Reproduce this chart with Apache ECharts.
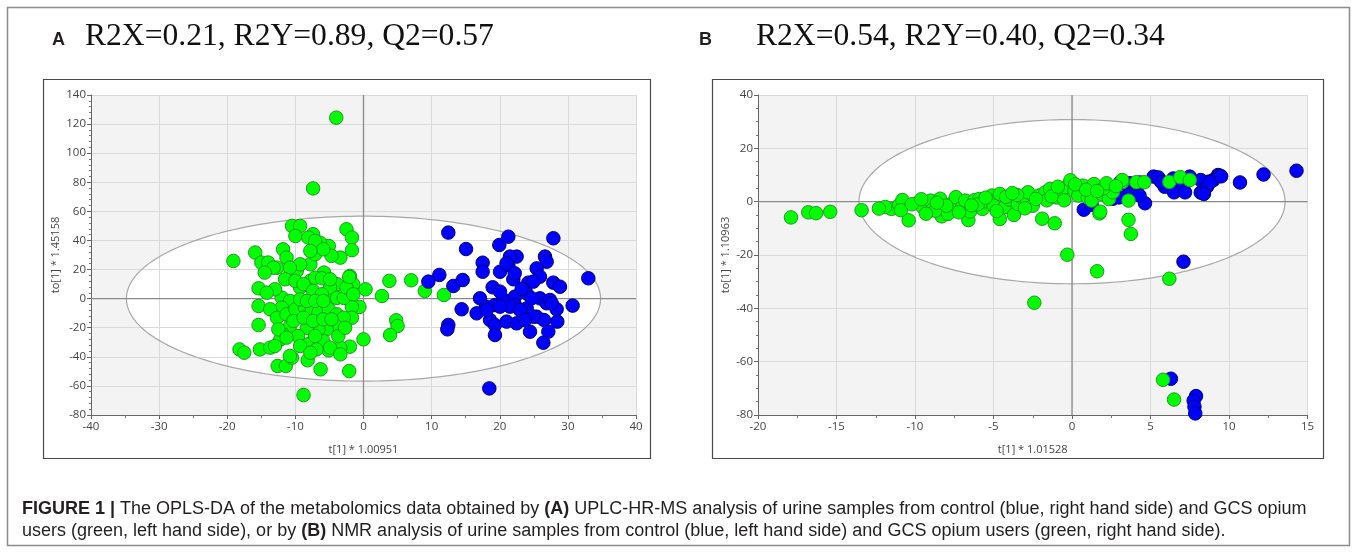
<!DOCTYPE html>
<html><head><meta charset="utf-8">
<script src="https://cdn.jsdelivr.net/npm/echarts@6/dist/echarts.min.js"></script>
<style>html,body{margin:0;padding:0;background:#fff}#c{width:1357px;height:552px}</style>
</head><body><div id="c"></div><script>
// ---------- Panel A data (UPLC-HR-MS) ----------
const greenA = [[-4.0,124.4],[-7.4,75.8],[-8.8,-66.3],[-19.1,25.9],[-15.9,31.7],[-15.0,24.8],[-15.4,7.1],[-15.4,-5.0],[-15.4,-18.1],[-18.2,-34.9],[-17.5,-37.2],[-15.2,-34.9],[-13.7,-33.7],[-12.6,-46.3],[-11.4,-46.3],[-10.5,-40.6],[-8.2,-42.4],[-6.3,-48.6],[-2.1,-49.8],[0,-28],[-2.0,-33],[-3.4,-33.7],[-5.1,-35.6],[-10.5,50],[-9.3,50],[-10.0,43.1],[-7.4,44.3],[-2.5,47.7],[-1.7,42.0],[-1.7,33.3],[-5.1,36.2],[-6.4,38.5],[-3.4,28.2],[-4.7,29.4],[-11.8,33.9],[-12.7,21.3],[-14.0,24.8],[-11.3,28.2],[-9.8,19],[-7.8,23.6],[-7.1,30.5],[-5.8,17.9],[-2.0,15.6],[-1.5,9.9],[0.3,6.4],[-0.6,-5.7],[-1.7,-5.7],[-1.7,-13.1],[-3.9,9.9],[-4.7,0.7],[-12.0,0.7],[-10.8,-1.6],[-9.3,7.6],[-7.8,12.2],[-7.1,14.4],[-6.1,14],[-4.9,7.6],[-3.9,0.5],[-2.9,0.5],[-12.0,-6.2],[-13.7,-7.3],[-12.7,-13.1],[-11.3,-10.8],[-10.0,-7.3],[-8.6,-6.2],[-7.6,-8.5],[-6.6,-9.6],[-5.1,-7.3],[-3.9,-10.8],[-2.9,-13.1],[-4.2,-18.1],[-5.4,-21.1],[-6.6,-21.1],[-8.3,-20],[-10.8,-18.8],[-11.8,-24.5],[-12.2,-28],[-9.6,-25.7],[-8.1,-31.4],[-5.9,-29.1],[-4.9,-33.7],[-9.3,-32.6],[-10.8,-39.4],[-8.1,42],[-7.1,39.7],[-5.9,33.9],[-7.8,32.8],[-9.3,23.6],[-10.8,21.3],[-13.2,21.3],[-14.5,17.9],[-11.5,13.3],[-10.0,12.2],[-8.8,9.9],[-7.4,5.3],[-6.1,3],[-9.3,-0.5],[-8.3,-1.6],[-7.1,-1.6],[-5.9,-1.6],[-13.0,6.4],[-14.2,4.1],[-2.5,7.6],[-1.5,3],[-2.1,14.9],[-4.9,13.3],[-10.3,-15.4],[-8.8,-13.1],[-7.4,-15.4],[-5.9,-14.2],[-4.7,-14.2],[-12.5,-21.1],[-11.3,-26.8],[-7.1,-25.7],[-3.7,-25.7],[-2.7,-20],[-6.9,-34.9],[-3.4,-38.3],[-7.8,-37.2],[-13.0,-32.6],[3.8,12.2],[7.0,12.6],[2.7,1.8],[4.8,-14.9],[5.0,-18.8],[3.9,-25],[9.0,5.3],[11.8,2.5]];
const blueA = [[12.45,45.4],[15.05,34.1],[19.94,36.9],[21.26,42.6],[27.87,41.5],[33.0,14.0],[11.13,16.3],[9.52,11.7],[13.19,8.7],[14.56,12.8],[17.49,24.7],[17.49,18.5],[20.04,18.5],[21.26,23.1],[22.48,28.9],[21.5,28.9],[26.64,28.9],[26.89,25.4],[25.42,20.8],[25.9,15.1],[24.2,11],[27.86,11],[28.84,8.2],[21.99,13.3],[18.96,7.8],[17.1,0.2],[17.98,-5.5],[19.3,-4.4],[20.5,-0.5],[22.24,1.4],[22.24,-4.4],[23.95,-6.7],[23.95,3.6],[25.9,0.2],[26.89,-3.2],[27.38,-0.9],[28.35,-7.3],[30.7,-4.8],[14.41,-7.3],[16.61,-10.1],[18.57,-14.7],[19.3,-18.1],[19.3,-25],[21.01,-15.8],[22.48,-17],[24.44,-22.7],[25.42,-12.4],[26.49,-14.7],[28.45,-15.8],[27.13,-22.7],[26.4,-30.3],[12.45,-18.1],[12.31,-21.1],[18.47,-61.7],[23.22,6.8],[24.93,11.7],[21.5,-5.5],[20.04,-5.5],[18.08,-7.8],[22.97,-7.8],[24.93,-12.4],[23.71,-14.7],[27.62,-3.2],[20.04,4.8],[24.68,0.2],[21.0,24.3],[22.2,17.4]];
const ellipseA = [0, 0, 34.8, 56.7];   // centre x, centre y, semi-axis x, semi-axis y
const xRangeA = [-40, 40, 10];
const yRangeA = [-80, 140, 20];

// ---------- Panel B data (NMR) ----------
const greenB = [[-17.9,-5.9],[-16.8,-4.0],[-16.3,-4.3],[-15.4,-3.8],[-13.4,-3.2],[-11.5,-2.7],[-11.0,-1.2],[-10.8,0.6],[-10.9,-3.2],[-10.4,-7.0],[-9.8,-0.4],[-9.5,-2.1],[-9.0,0.4],[-8.9,-3.1],[-8.4,1.1],[-8.3,-5.5],[-8.7,-3.4],[-7.9,-4.6],[-7.7,-0.9],[-7.4,1.7],[-7.0,-2.1],[-6.8,0.4],[-6.6,-6.9],[-6.5,-3.7],[-6.2,0.6],[-5.9,1.0],[-5.7,-2.7],[-5.4,0.0],[-5.1,2.3],[-5.0,-1.5],[-4.6,2.9],[-4.6,-6.5],[-4.3,-2.1],[-4.0,0.8],[-3.7,-5.0],[-3.45,-0.9],[-3.2,1.6],[-2.9,0.6],[-2.8,3.5],[-2.5,-1.5],[-2.1,2.3],[-1.9,-6.4],[-1.7,3.5],[-1.6,0.5],[-1.4,4.8],[-1.1,-8.1],[-1.0,1.6],[-0.75,3.1],[-0.7,2.9],[-0.4,5.4],[-0.1,8.0],[0.15,4.1],[0.4,2.3],[0.7,6.0],[1.0,1.6],[1.25,0.4],[1.4,6.6],[1.75,-4.4],[1.9,2.9],[2.2,5.4],[2.35,1.0],[2.6,3.5],[3.2,7.3],[3.6,0.4],[3.6,-6.8],[3.75,-12.1],[4.1,7.3],[4.6,7.3],[6.2,7.4],[6.9,9.2],[7.5,8.1],[-0.3,-19.9],[1.6,-26.1],[6.2,-28.9],[-2.4,-37.9],[5.8,-66.8],[6.5,-74.2],[2.0,5.0],[1.8,-3.75],[3.2,8.1],[2.2,6.9],[-11.9,-2.0],[-10.2,-1.0],[-9.3,-4.5],[-8.0,-1.5],[-7.2,-4.0],[-6.0,-1.0],[-5.5,1.5],[-4.8,-3.5],[-4.2,1.8],[-3.5,2.5],[-3.0,-2.5],[-2.3,1.0],[-1.3,2.0],[-0.5,0.5],[0.2,6.5],[0.9,4.5],[1.6,4.0],[2.8,5.8],[-12.3,-2.6],[-9.6,0.9],[-8.6,-0.4],[-6.4,-1.4],[-3.8,3.2],[-0.9,5.6]];
const blueB = [[14.3,11.6],[12.2,10.2],[10.7,7.2],[9.3,10.0],[8.7,7.5],[8.2,8.1],[8.2,3.4],[7.5,9.4],[7.1,4.4],[6.7,5.0],[6.45,8.7],[5.6,8.1],[5.2,9.4],[4.65,-0.6],[4.3,7.2],[4.0,5.0],[3.5,6.2],[2.7,2.5],[7.1,-22.5],[6.3,-66.4],[7.9,-72.9],[7.75,-74.6],[7.8,-76.9],[7.85,-79.4],[5.9,5.6],[6.9,6.9],[8.6,5.6],[9.0,8.1],[0.75,-3.0],[1.25,-1.2],[2.6,1.1],[3.1,7.5],[3.7,6.9],[4.1,4.4],[3.6,2.5],[5.5,9.1],[5.7,7.3],[6.5,3.5],[7.2,3.5],[8.4,2.9],[9.4,9.8],[8.8,7.3],[4.3,2.3],[3.0,1.6],[1.5,5.4],[9.5,9.5]];
const ellipseB = [0, 0, 13.57, 30.8];
const xRangeB = [-20, 15, 5];
const yRangeB = [-80, 40, 20];

const titleA = 'R2X=0.21, R2Y=0.89, Q2=0.57';
const titleB = 'R2X=0.54, R2Y=0.40, Q2=0.34';
const xNameA = 't[1] * 1.00951', yNameA = 'to[1] * 1.45158';
const xNameB = 't[1] * 1.01528', yNameB = 'to[1] * 1.10963';

// ---------- builders ----------
const axisFont = 'Open Sans';
function xAxisCfg(idx, r, name) {
  return {
    gridIndex: idx, type: 'value', min: r[0], max: r[1], interval: r[2], z: 2,
    name: name, nameLocation: 'middle', nameGap: 29,
    nameTextStyle: { color: '#444', fontSize: 11, fontFamily: axisFont },
    axisLine: { show: true, onZero: false, lineStyle: { color: '#666', width: 1 } },
    axisTick: { show: true, length: 4, lineStyle: { color: '#666' } },
    minorTick: { show: true, splitNumber: 2, length: 3, lineStyle: { color: '#777' } },
    splitLine: { show: true, lineStyle: { color: '#dadada', width: 1 } },
    axisLabel: { color: '#444', fontSize: 11.5, fontFamily: axisFont, margin: 6 }
  };
}
function yAxisCfg(idx, r, name, minorSplit, gap) {
  return {
    gridIndex: idx, type: 'value', min: r[0], max: r[1], interval: r[2], z: 2,
    name: name, nameLocation: 'middle', nameGap: gap, nameRotate: 90,
    nameTextStyle: { color: '#444', fontSize: 11, fontFamily: axisFont },
    axisLine: { show: true, onZero: false, lineStyle: { color: '#666', width: 1 } },
    axisTick: { show: true, length: 4, lineStyle: { color: '#666' } },
    minorTick: { show: true, splitNumber: minorSplit, length: 2, lineStyle: { color: '#777' } },
    splitLine: { show: true, lineStyle: { color: '#dadada', width: 1 } },
    axisLabel: { color: '#444', fontSize: 11.5, fontFamily: axisFont, margin: 5 }
  };
}
function ellipseSeries(idx, e, mode, z) {
  return {
    type: 'custom', xAxisIndex: idx, yAxisIndex: idx, z: z, silent: true, clip: false,
    data: [e],
    renderItem: function (params, api) {
      const cx = api.value(0), cy = api.value(1), rx = api.value(2), ry = api.value(3);
      const pts = [];
      for (let i = 0; i <= 240; i++) {
        const t = i / 240 * 2 * Math.PI;
        pts.push(api.coord([cx + rx * Math.cos(t), cy + ry * Math.sin(t)]));
      }
      return {
        type: 'polygon', shape: { points: pts },
        style: mode === 'fill' ? { fill: '#ffffff', stroke: null }
                               : { fill: null, stroke: '#a8a8a8', lineWidth: 1.2 }
      };
    }
  };
}
function zeroLine(idx, pts) {
  return { type: 'line', xAxisIndex: idx, yAxisIndex: idx, z: 3, silent: true,
    symbol: 'none', data: pts, lineStyle: { color: '#8a8a8a', width: 1.3 } };
}
function scatter(idx, data, fill, border, z) {
  return { type: 'scatter', xAxisIndex: idx, yAxisIndex: idx, z: z, data: data,
    symbolSize: 13.5, itemStyle: { color: fill, borderColor: border, borderWidth: 1, opacity: 1 } };
}

const chart = echarts.init(document.getElementById('c'), null, { renderer: 'canvas' });
const capFont = 'Liberation Sans';
const capSize = 18;
const capRich = { b: { fontWeight: 'bold', fontSize: capSize, fontFamily: capFont, color: '#231f20' } };
chart.setOption({
  animation: false,
  backgroundColor: '#ffffff',
  grid: [
    { left: 91, top: 95, width: 545, height: 320, show: true, backgroundColor: '#f3f3f3', borderWidth: 0, z: 0 },
    { left: 758, top: 95, width: 549.5, height: 320, show: true, backgroundColor: '#f3f3f3', borderWidth: 0, z: 0 }
  ],
  xAxis: [ xAxisCfg(0, xRangeA, xNameA), xAxisCfg(1, xRangeB, xNameB) ],
  yAxis: [ yAxisCfg(0, yRangeA, yNameA, 5, 30), yAxisCfg(1, yRangeB, yNameB, 4, 27) ],
  series: [
    ellipseSeries(0, ellipseA, 'fill', 1),
    ellipseSeries(0, ellipseA, 'stroke', 3),
    zeroLine(0, [[xRangeA[0], 0], [xRangeA[1], 0]]),
    zeroLine(0, [[0, yRangeA[0]], [0, yRangeA[1]]]),
    scatter(0, greenA, '#00ff00', '#1f9a1f', 4),
    scatter(0, blueA, '#0000ff', '#00007a', 4),
    ellipseSeries(1, ellipseB, 'fill', 1),
    ellipseSeries(1, ellipseB, 'stroke', 3),
    zeroLine(1, [[xRangeB[0], 0], [xRangeB[1], 0]]),
    zeroLine(1, [[0, yRangeB[0]], [0, yRangeB[1]]]),
    scatter(1, blueB, '#0000ff', '#00007a', 4),
    scatter(1, greenB, '#00ff00', '#1f9a1f', 5)
  ],
  graphic: [
    { type: 'rect', z: -10, silent: true, shape: { x: 7.5, y: 7.5, width: 1342, height: 538 },
      style: { fill: null, stroke: '#8c8c8c', lineWidth: 1.5 } },
    { type: 'rect', z: -10, silent: true, shape: { x: 43.5, y: 79.5, width: 607, height: 379 },
      style: { fill: null, stroke: '#4a4a4a', lineWidth: 1.2 } },
    { type: 'rect', z: -10, silent: true, shape: { x: 712.5, y: 79.5, width: 611, height: 379 },
      style: { fill: null, stroke: '#4a4a4a', lineWidth: 1.2 } },
    { type: 'text', silent: true, x: 52, y: 40, style: { text: 'A', fontFamily: 'Liberation Sans', fontWeight: 'bold', fontSize: 18, fill: '#231f20', verticalAlign: 'middle' } },
    { type: 'text', silent: true, x: 85, y: 37, style: { text: titleA, fontFamily: 'Liberation Serif', fontSize: 31.6, fill: '#111', verticalAlign: 'middle' } },
    { type: 'text', silent: true, x: 699, y: 40, style: { text: 'B', fontFamily: 'Liberation Sans', fontWeight: 'bold', fontSize: 18, fill: '#231f20', verticalAlign: 'middle' } },
    { type: 'text', silent: true, x: 756, y: 37, style: { text: titleB, fontFamily: 'Liberation Serif', fontSize: 31.6, fill: '#111', verticalAlign: 'middle' } },
    { type: 'text', silent: true, x: 22, y: 509, style: {
        text: '{b|FIGURE 1 |} The OPLS-DA of the metabolomics data obtained by {b|(A)} UPLC-HR-MS analysis of urine samples from control (blue, right hand side) and GCS opium',
        rich: capRich, fontFamily: capFont, fontSize: capSize, fill: '#231f20', verticalAlign: 'middle' } },
    { type: 'text', silent: true, x: 22, y: 531, style: {
        text: 'users (green, left hand side), or by {b|(B)} NMR analysis of urine samples from control (blue, left hand side) and GCS opium users (green, right hand side).',
        rich: capRich, fontFamily: capFont, fontSize: capSize, fill: '#231f20', verticalAlign: 'middle' } }
  ]
});
</script></body></html>
